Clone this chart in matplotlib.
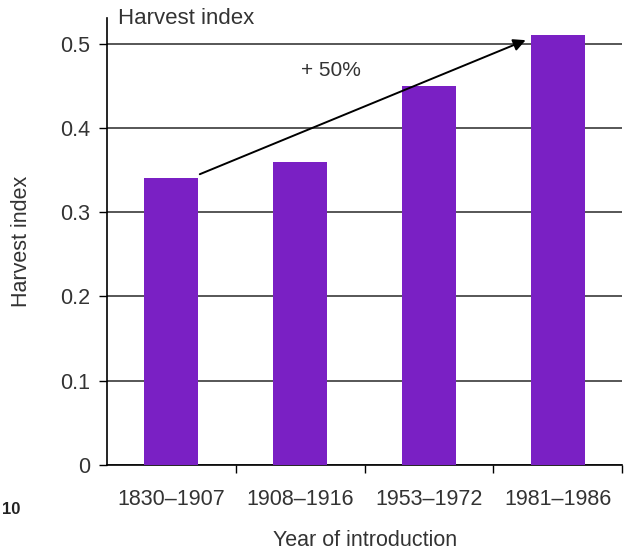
import numpy as np
from matplotlib import pyplot as plt

periods = ["1830\u20131907", "1908\u20131916", "1953\u20131972", "1981\u20131986"]
harvest_index = [0.34, 0.36, 0.45, 0.51]
yticks = [0, 0.1, 0.2, 0.3, 0.4, 0.5]
ytick_labels = ["0", "0.1", "0.2", "0.3", "0.4", "0.5"]

plt.rcParams["font.family"] = ["Liberation Sans", "DejaVu Sans"]
txt = "#333333"

fig = plt.figure(figsize=(6.26, 5.53), dpi=100)
ax = fig.add_axes([0.171, 0.159, 0.823, 0.808])

x = np.arange(len(periods))
ax.bar(x, harvest_index, width=0.42, color="#7A20C4", zorder=3)

ax.set_xlim(-0.5, 3.5)
ax.set_ylim(0, 0.53)

ax.set_yticks(yticks)
ax.set_yticklabels(ytick_labels, fontsize=15.5, color=txt)
ax.yaxis.grid(True, color="#3a3a3a", lw=1.2, zorder=1)
ax.set_axisbelow(True)
ax.tick_params(axis="y", length=6, width=1, pad=6)

# category labels centred on bars, short ticks on the category boundaries
ax.set_xticks(x)
ax.set_xticklabels(periods, fontsize=15.5, color=txt)
ax.set_xticks(list(x[:-1] + 0.5) + [3.5], minor=True)
ax.tick_params(axis="x", which="major", length=0, pad=17)
ax.tick_params(axis="x", which="minor", length=6, width=1)

for s in ["top", "right"]:
    ax.spines[s].set_visible(False)
ax.spines["left"].set_linewidth(1.2)
ax.spines["bottom"].set_linewidth(1.2)

ax.set_ylabel("Harvest index", fontsize=15.5, color=txt)
ax.yaxis.set_label_coords(-0.146, 0.5)
ax.set_xlabel("Year of introduction", fontsize=15.5, color=txt)
ax.xaxis.set_label_coords(0.5, -0.145)

ax.text(0.021, 1.0, "Harvest index", transform=ax.transAxes, fontsize=16,
        color=txt, ha="left", va="center")

ax.annotate("", xy=(2.75, 0.504), xytext=(0.22, 0.345),
            arrowprops=dict(arrowstyle="-|>", color="black", lw=1.4,
                            mutation_scale=18, shrinkA=0, shrinkB=0), zorder=5)
ax.text(1.24, 0.468, "+ 50%", fontsize=15, color=txt, ha="center", va="center")

fig.text(2 / 626, 1 - 509 / 553, "10", fontsize=12, color="#222222",
         ha="left", va="center", fontweight="bold")

plt.savefig("out.png", dpi=100)
